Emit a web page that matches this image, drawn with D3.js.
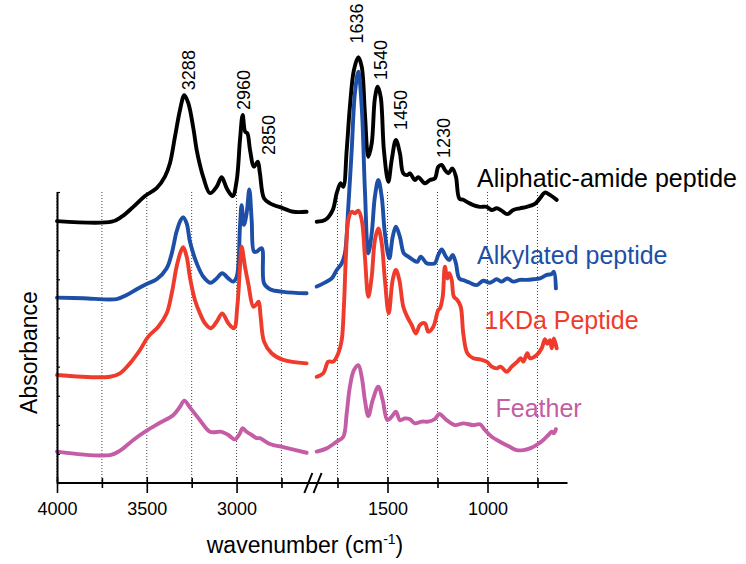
<!DOCTYPE html>
<html>
<head>
<meta charset="utf-8">
<script src="https://cdn.jsdelivr.net/npm/d3@7"></script>
<style>
  html, body { margin: 0; padding: 0; background: #fff; }
  svg { display: block; font-family: "Liberation Sans", Arial, Helvetica, sans-serif; }
</style>
</head>
<body>
<svg id="chart" width="746" height="564"></svg>
<script>
// ---------------- DATA ----------------
// wavenumber (cm-1) , stacked absorbance (arbitrary units, offset spectra)
const aliphaticLeft = [[4000,9.00],[3695,8.98],[3640,9.15],[3575,9.49],[3510,9.86],[3445,10.13],[3399,10.53],[3371,10.99],[3343,11.90],[3315,12.82],[3291,13.33],[3269,13.06],[3241,12.20],[3222,11.44],[3204,10.93],[3185,10.50],[3148,9.96],[3111,10.18],[3083,10.51],[3055,10.13],[3022,9.86],[2999,10.41],[2981,11.79],[2966,12.65],[2952,12.07],[2940,12.02],[2925,11.44],[2903,10.87],[2882,11.04],[2870,10.64],[2847,9.78],[2814,9.61],[2740,9.44],[2684,9.32],[2610,9.32]];
const aliphaticRight = [[1854,8.98],[1812,9.04],[1774,9.38],[1754,9.96],[1734,10.30],[1721,10.18],[1704,11.44],[1688,12.93],[1668,14.19],[1646,14.63],[1629,14.31],[1613,12.70],[1596,11.21],[1579,11.67],[1563,13.22],[1549,13.62],[1534,13.27],[1518,11.44],[1496,10.35],[1479,11.10],[1458,11.79],[1438,11.33],[1421,10.64],[1401,10.58],[1388,10.64],[1363,10.41],[1346,10.51],[1313,10.30],[1288,10.41],[1263,10.47],[1246,10.87],[1229,10.93],[1213,10.76],[1196,10.64],[1176,10.81],[1158,10.53],[1141,9.78],[1121,9.73],[1096,9.63],[1071,9.55],[1038,9.49],[1004,9.49],[979,9.38],[954,9.44],[929,9.36],[901,9.24],[871,9.38],[838,9.44],[804,9.49],[763,9.59],[738,9.78],[713,9.98],[688,9.90],[654,9.73]];

const alkylatedLeft = [[4000,6.37],[3854,6.35],[3668,6.32],[3612,6.46],[3556,6.66],[3501,6.84],[3445,7.00],[3389,7.38],[3361,7.89],[3334,8.64],[3311,9.04],[3297,9.13],[3278,8.92],[3259,8.28],[3222,7.55],[3185,7.09],[3144,6.88],[3111,7.03],[3080,7.21],[3046,7.03],[3018,6.92],[2999,7.09],[2981,8.81],[2972,9.55],[2959,8.87],[2944,9.27],[2929,10.09],[2916,9.04],[2903,7.95],[2888,7.95],[2860,8.07],[2847,6.86],[2814,6.66],[2740,6.57],[2610,6.52]];
const alkylatedRight = [[1854,6.75],[1821,6.86],[1779,7.03],[1754,7.32],[1729,7.55],[1713,7.89],[1696,9.49],[1679,11.44],[1663,13.39],[1646,14.13],[1629,12.93],[1613,10.07],[1596,7.89],[1579,8.58],[1563,9.84],[1546,10.41],[1529,9.84],[1513,8.58],[1491,7.72],[1474,8.46],[1458,8.81],[1438,8.46],[1418,7.89],[1396,7.78],[1371,7.66],[1351,7.60],[1334,7.78],[1304,7.55],[1279,7.53],[1263,7.55],[1246,7.84],[1229,8.03],[1208,7.78],[1191,7.66],[1174,7.84],[1158,7.55],[1141,7.03],[1113,6.95],[1088,6.88],[1054,6.80],[1021,6.95],[988,6.88],[954,7.00],[929,6.92],[901,7.03],[871,6.92],[838,6.98],[804,6.98],[771,7.00],[738,7.03],[704,7.15],[679,7.18],[668,7.26],[658,6.69]];

const kdaLeft = [[4000,3.71],[3705,3.65],[3649,3.77],[3594,4.11],[3538,4.57],[3492,5.03],[3436,5.37],[3389,5.83],[3361,6.52],[3334,7.43],[3311,7.95],[3297,8.10],[3278,7.78],[3259,7.04],[3232,6.29],[3204,5.83],[3176,5.49],[3144,5.32],[3111,5.54],[3080,5.83],[3046,5.49],[3014,5.32],[2996,6.06],[2981,7.43],[2972,8.12],[2953,7.43],[2935,6.86],[2907,6.06],[2892,6.12],[2877,6.23],[2866,5.71],[2847,4.86],[2805,4.46],[2740,4.23],[2610,4.11]];
const kdaRight = [[1854,3.65],[1821,3.77],[1796,4.17],[1771,4.17],[1746,4.46],[1729,4.91],[1718,6.06],[1708,7.78],[1696,9.04],[1679,9.32],[1663,9.27],[1646,9.36],[1629,9.04],[1613,7.78],[1596,6.40],[1579,7.09],[1563,8.35],[1546,8.75],[1529,8.24],[1513,6.98],[1494,5.83],[1474,6.98],[1458,7.32],[1441,6.98],[1421,6.06],[1401,5.71],[1379,5.43],[1358,5.14],[1338,5.43],[1313,5.49],[1296,5.20],[1271,5.37],[1246,5.95],[1238,6.00],[1224,6.40],[1213,7.43],[1201,7.03],[1191,7.21],[1179,6.98],[1168,6.40],[1151,6.29],[1134,6.06],[1121,5.14],[1101,4.46],[1071,4.29],[1038,4.25],[1004,4.17],[979,4.00],[954,3.94],[934,4.00],[904,3.82],[879,4.00],[851,4.17],[834,4.29],[821,4.17],[801,4.46],[788,4.29],[754,4.40],[729,4.63],[713,4.94],[701,4.78],[688,4.91],[679,4.63],[668,4.97],[654,4.63]];

const featherLeft = [[4000,1.08],[3705,0.96],[3649,1.11],[3575,1.48],[3501,1.80],[3427,2.07],[3352,2.34],[3315,2.62],[3291,2.83],[3259,2.59],[3204,2.16],[3148,1.76],[3083,1.76],[3046,1.65],[3009,1.50],[2981,1.71],[2968,1.88],[2944,1.76],[2916,1.65],[2888,1.54],[2870,1.54],[2814,1.34],[2740,1.23],[2610,1.04]];
const featherRight = [[1854,1.08],[1804,1.19],[1754,1.42],[1721,1.59],[1704,2.40],[1688,3.31],[1668,3.88],[1646,4.05],[1629,3.65],[1613,2.85],[1596,2.30],[1574,2.85],[1546,3.31],[1524,2.85],[1501,2.16],[1479,2.28],[1458,2.45],[1438,2.16],[1413,2.22],[1388,2.19],[1363,2.05],[1329,2.11],[1296,2.11],[1263,2.20],[1241,2.37],[1204,2.16],[1163,1.99],[1121,2.05],[1071,1.99],[1038,2.02],[1013,1.82],[979,1.59],[938,1.42],[896,1.27],[854,1.13],[821,1.13],[788,1.19],[754,1.31],[721,1.48],[696,1.65],[679,1.76],[668,1.71],[658,1.85]];

const seriesNames  = ["Aliphatic-amide peptide", "Alkylated peptide", "1KDa Peptide", "Feather"];
const seriesColors = ["#000000", "#1d4fa6", "#ef3b2c", "#c45ca6"];
const seriesLabelWn  = [1052, 1052, 1016, 960];
const seriesLabelAbs = [10.16, 7.53, 5.29, 2.27];

const peakLabels   = ["3288", "2960", "2850", "1636", "1540", "1450", "1230"];
const peakLabelWn  = [3269, 2959, 2821, 1657, 1534, 1436, 1219];
const peakLabelAbs = [13.5, 12.82, 11.27, 15.1, 13.85, 12.13, 11.17];

const leftTicks  = [4000, 3750, 3500, 3250, 3000, 2750];
const rightTicks = [1750, 1500, 1250, 1000, 750];
const tickLabelsShown = [4000, 3500, 3000, 1500, 1000];
const yTicks = [0,1,2,3,4,5,6,7,8,9,10];

// ---------------- CHART ----------------
const svg = d3.select("#chart");
const xL = d3.scaleLinear().domain([4000, 2600]).range([57, 308.4]);
const xR = d3.scaleLinear().domain([1850, 600]).range([317.5, 567.5]);
const y  = d3.scaleLinear().domain([0, 10]).range([483, 192]);

// gridlines (dotted)
const grid = svg.append("g");
[[leftTicks, xL], [rightTicks, xR]].forEach(([ticks, sc]) => {
  grid.selectAll(null).data(ticks).enter().append("line")
    .attr("x1", d => sc(d)).attr("x2", d => sc(d))
    .attr("y1", y(10)).attr("y2", y(0))
    .attr("stroke", "#444").attr("stroke-width", 1)
    .attr("stroke-dasharray", "1,2");
});

// curves
const series = [
  [aliphaticLeft, aliphaticRight],
  [alkylatedLeft, alkylatedRight],
  [kdaLeft, kdaRight],
  [featherLeft, featherRight]
];
const lineL = d3.line().x(d => xL(d[0])).y(d => y(d[1])).curve(d3.curveCatmullRom.alpha(0.5));
const lineR = d3.line().x(d => xR(d[0])).y(d => y(d[1])).curve(d3.curveCatmullRom.alpha(0.5));
const curves = svg.append("g");
series.forEach((s, i) => {
  [lineL(s[0]), lineR(s[1])].forEach(dPath => {
    curves.append("path").attr("d", dPath)
      .attr("fill", "none").attr("stroke", seriesColors[i]).attr("stroke-width", 3.9)
      .attr("stroke-linejoin", "round").attr("stroke-linecap", "round");
  });
});

// y axis (ticks inward)
const yAxis = svg.append("g").attr("transform", `translate(${xL(4000)},0)`)
  .call(d3.axisRight(y).tickValues(yTicks).tickSize(3).tickSizeOuter(0).tickFormat(""));
yAxis.select(".domain").attr("stroke", "#000").attr("stroke-width", 2);
yAxis.selectAll(".tick line").attr("stroke", "#000").attr("stroke-width", 1.2);

// x axis: two segments sharing one baseline
function drawXAxis(sc, ticks) {
  const g = svg.append("g").attr("transform", `translate(0,${y(0)})`)
    .call(d3.axisBottom(sc).tickValues(ticks).tickSizeOuter(0).tickFormat(""));
  g.select(".domain").remove();
  g.selectAll(".tick line")
    .attr("y1", d => tickLabelsShown.includes(d) ? -6 : -5)
    .attr("y2", d => tickLabelsShown.includes(d) ? 10 : 5)
    .attr("stroke", "#000").attr("stroke-width", 1.6);
  g.selectAll(".tick").filter(d => tickLabelsShown.includes(d))
    .append("text").text(d => d)
    .attr("y", 32).attr("fill", "#000")
    .attr("font-size", 18).attr("text-anchor", "middle")
    .attr("font-family", "Liberation Sans, Arial, Helvetica, sans-serif");
}
drawXAxis(xL, leftTicks);
drawXAxis(xR, rightTicks);
svg.append("line")
  .attr("x1", xL(4000)).attr("x2", xR(600))
  .attr("y1", y(0)).attr("y2", y(0))
  .attr("stroke", "#000").attr("stroke-width", 2);

// axis break marks "//"
const breakMid = (xL(2600) + xR(1850)) / 2;
[-4.6, 4.6].forEach(off => {
  svg.append("line")
    .attr("x1", breakMid + off - 4).attr("y1", y(0) + 10)
    .attr("x2", breakMid + off + 4).attr("y2", y(0) - 10)
    .attr("stroke", "#000").attr("stroke-width", 2);
});

// peak annotations (rotated)
peakLabels.forEach((t, i) => {
  const wn = peakLabelWn[i];
  const px = wn > 2000 ? xL(wn) : xR(wn);
  const py = y(peakLabelAbs[i]);
  svg.append("text").text(t)
    .attr("transform", `translate(${px},${py}) rotate(-90)`)
    .attr("dy", "0.36em")
    .attr("font-size", 18).attr("fill", "#000");
});

// series labels
seriesNames.forEach((n, i) => {
  svg.append("text").text(n)
    .attr("x", xR(seriesLabelWn[i])).attr("y", y(seriesLabelAbs[i]))
    .attr("font-size", 25).attr("fill", seriesColors[i]);
});

// axis titles
const xt = svg.append("text").attr("x", 305).attr("y", 553)
  .attr("text-anchor", "middle").attr("font-size", 23).attr("fill", "#000");
xt.append("tspan").text("wavenumber (cm");
xt.append("tspan").text("-1").attr("font-size", 14).attr("dy", -9);
xt.append("tspan").text(")").attr("dy", 9);

svg.append("text").text("Absorbance")
  .attr("transform", `translate(37,${(y(0) + y(10)) / 2 + 15}) rotate(-90)`)
  .attr("text-anchor", "middle").attr("font-size", 23).attr("fill", "#000");
</script>
</body>
</html>
